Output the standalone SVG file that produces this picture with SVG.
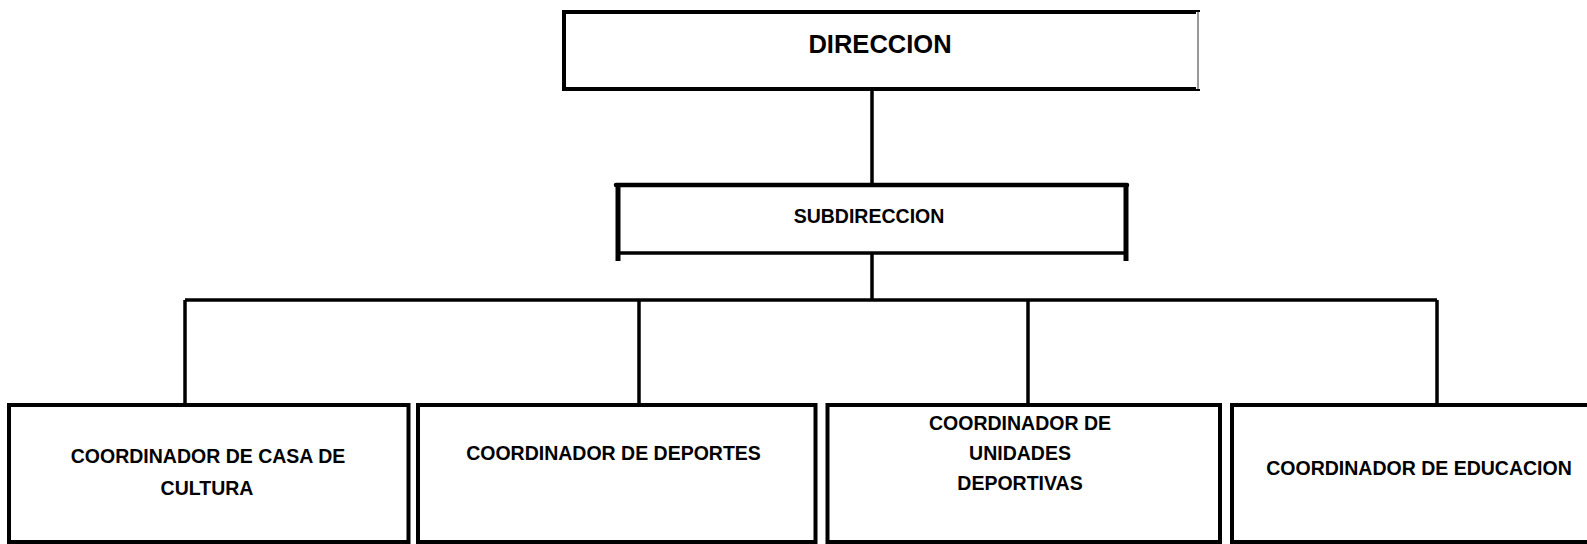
<svg xmlns="http://www.w3.org/2000/svg" width="1587" height="544" viewBox="0 0 1587 544">
<style>
.box{fill:#fff;stroke:#000;stroke-width:4}
.ln{stroke:#000;stroke-width:3.5;fill:none}
.t{font-family:"Liberation Sans",Arial,sans-serif;font-weight:bold;fill:#000;text-anchor:middle}
.s{font-size:19.5px}
</style>
<rect width="1587" height="544" fill="#fff"/>
<g id="connectors">
<line class="ln" x1="872" y1="89" x2="872" y2="185"/>
<line class="ln" x1="872" y1="253" x2="872" y2="300"/>
<line class="ln" x1="185" y1="300" x2="1437" y2="300"/>
<line class="ln" x1="185" y1="300" x2="185" y2="405"/>
<line class="ln" x1="639" y1="300" x2="639" y2="405"/>
<line class="ln" x1="1028" y1="300" x2="1028" y2="405"/>
<line class="ln" x1="1437" y1="300" x2="1437" y2="405"/>
</g>
<g id="direccion">
<rect x="564" y="12" width="634" height="77" fill="#fff" stroke="#000" stroke-width="4"/>
<line x1="1198" y1="12" x2="1198" y2="89" stroke="#fff" stroke-width="4"/>
<line x1="1198" y1="12" x2="1198" y2="89" stroke="#777" stroke-width="1.5"/>
<text class="t" x="880" y="53" font-size="25.5">DIRECCION</text>
</g>
<g id="subdireccion">
<line x1="616" y1="185" x2="1127" y2="185" stroke="#000" stroke-width="4.5" stroke-linecap="round"/>
<line x1="618" y1="185" x2="618" y2="261" stroke="#000" stroke-width="5"/>
<line x1="1126" y1="185" x2="1126" y2="261" stroke="#000" stroke-width="5"/>
<line x1="618" y1="253" x2="1126" y2="253" stroke="#000" stroke-width="3.5"/>
<text class="t" x="869" y="223" font-size="19.5">SUBDIRECCION</text>
</g>
<g id="coord-cultura">
<rect class="box" x="9" y="405" width="399.5" height="137"/>
<text class="t s" x="208" y="463">COORDINADOR DE CASA DE</text>
<text class="t s" x="207" y="495">CULTURA</text>
</g>
<g id="coord-deportes">
<rect class="box" x="418" y="405" width="397.5" height="137"/>
<text class="t s" x="613.5" y="460">COORDINADOR DE DEPORTES</text>
</g>
<g id="coord-unidades">
<rect class="box" x="827.5" y="405" width="392.5" height="137"/>
<text class="t s" x="1020" y="430">COORDINADOR DE</text>
<text class="t s" x="1020" y="460">UNIDADES</text>
<text class="t s" x="1020" y="490">DEPORTIVAS</text>
</g>
<g id="coord-educacion">
<rect class="box" x="1232" y="405" width="380" height="137"/>
<text class="t s" x="1419" y="475">COORDINADOR DE EDUCACION</text>
</g>
</svg>
